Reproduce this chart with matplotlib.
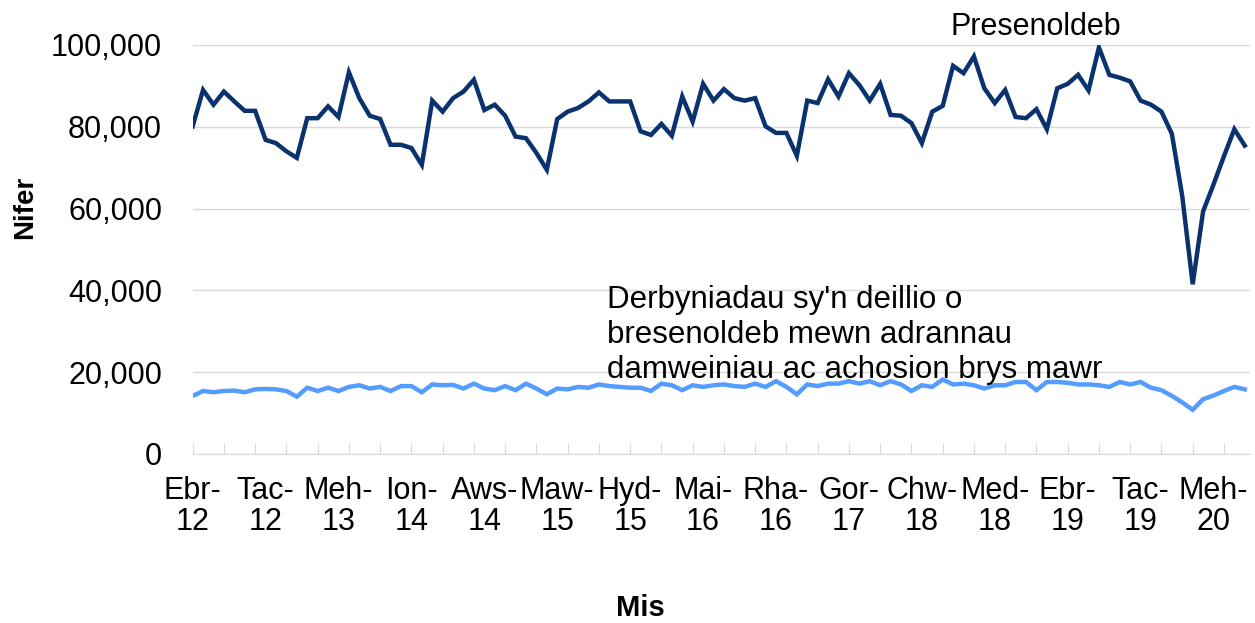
import matplotlib.pyplot as plt
import numpy as np
from matplotlib.ticker import FuncFormatter, FixedLocator

plt.rcParams["font.family"] = ["Liberation Sans", "DejaVu Sans"]

# monthly values, Apr 2012 .. Sep 2020
attendances = [
    80.1, 89.0, 85.4, 88.6, 86.2, 83.9, 83.9, 76.8, 76.0, 74.0, 72.4, 82.1,
    82.1, 85.0, 82.4, 93.3, 87.0, 82.7, 81.9, 75.6, 75.6, 74.8, 70.7, 86.4,
    83.7, 87.0, 88.6, 91.5, 84.1, 85.4, 82.7, 77.6, 77.2, 73.6, 69.5, 81.9,
    83.7, 84.6, 86.2, 88.4, 86.2, 86.2, 86.2, 78.9, 78.0, 80.7, 77.8, 87.4,
    81.3, 90.5, 86.4, 89.2, 87.0, 86.4, 87.0, 80.1, 78.5, 78.5, 72.9, 86.4,
    85.8, 91.6, 87.4, 93.1, 90.2, 86.4, 90.5, 82.9, 82.7, 80.9, 76.0, 83.7,
    85.1, 94.9, 93.1, 97.2, 89.4, 85.8, 89.0, 82.4, 82.1, 84.3, 79.4, 89.4,
    90.5, 92.7, 88.9, 99.4, 92.7, 92.0, 91.1, 86.4, 85.4, 83.7, 78.3, 63.0,
    41.5, 59.3, 65.9, 72.8, 79.4, 75.4,
]
admissions = [
    14.2, 15.4, 15.1, 15.4, 15.5, 15.1, 15.8, 15.9, 15.8, 15.4, 14.0, 16.2,
    15.4, 16.2, 15.4, 16.4, 16.8, 16.0, 16.4, 15.4, 16.6, 16.6, 15.1, 17.0,
    16.8, 16.9, 16.0, 17.2, 16.0, 15.6, 16.6, 15.6, 17.2, 16.0, 14.6, 16.0,
    15.8, 16.4, 16.2, 17.0, 16.6, 16.4, 16.2, 16.2, 15.4, 17.2, 16.8, 15.6,
    16.8, 16.4, 16.8, 17.0, 16.6, 16.4, 17.2, 16.4, 17.8, 16.4, 14.6, 17.0,
    16.6, 17.2, 17.2, 17.8, 17.2, 17.8, 16.8, 17.8, 17.0, 15.4, 16.8, 16.4,
    18.2, 17.0, 17.2, 16.8, 16.0, 16.8, 16.8, 17.6, 17.6, 15.6, 17.6, 17.6,
    17.4, 17.0, 17.0, 16.8, 16.4, 17.6, 17.0, 17.6, 16.2, 15.6, 14.2, 12.6,
    10.8, 13.4, 14.3, 15.4, 16.4, 15.8,
]
tick_labels = ["Ebr-\n12", "Tac-\n12", "Meh-\n13", "Ion-\n14", "Aws-\n14",
               "Maw-\n15", "Hyd-\n15", "Mai-\n16", "Rha-\n16", "Gor-\n17",
               "Chw-\n18", "Med-\n18", "Ebr-\n19", "Tac-\n19", "Meh-\n20"]

x = np.arange(len(attendances))
dark = "#0a326e"
light = "#559cff"

fig = plt.figure(figsize=(12.55, 6.23), dpi=100)
ax = fig.add_axes([0.1535, 0.2713, 0.8425, 0.6565])

ax.plot(x, np.array(attendances) * 1000, color=dark, lw=3.2, solid_joinstyle="miter")
ax.plot(x, np.array(admissions) * 1000, color=light, lw=3.2, solid_joinstyle="miter")

ax.set_xlim(0, 101.5)
ax.set_ylim(0, 100000)
ax.set_yticks(np.arange(0, 100001, 20000))
ax.yaxis.set_major_formatter(FuncFormatter(lambda v, p: f"{int(v):,}"))
ax.grid(axis="y", color="#d9d9d9", lw=1)
ax.set_axisbelow(True)

# tick marks every 3 months, labels every 7 months
ax.xaxis.remove_overlapping_locs = False
ax.xaxis.set_major_locator(FixedLocator(np.arange(0, 102, 3)))
ax.xaxis.set_major_formatter(FuncFormatter(lambda v, p: ""))
ax.xaxis.set_minor_locator(FixedLocator(np.arange(0, 7 * len(tick_labels), 7)))
ax.set_xticklabels(tick_labels, minor=True)
ax.tick_params(axis="x", which="major", direction="in", length=8, color="#d9d9d9")
ax.tick_params(axis="x", which="minor", length=0, pad=16, labelsize=22)
ax.tick_params(axis="y", length=0, pad=22, labelsize=22)
for lbl in ax.get_xticklabels(minor=True):
    lbl.set_linespacing(1.05)

for s in ["top", "right", "left"]:
    ax.spines[s].set_visible(False)
ax.spines["bottom"].set_color("#d9d9d9")

fig.text(25 / 1255, 1 - 207 / 623, "Nifer", fontsize=20, fontweight="bold",
         rotation=90, ha="center", va="center")
fig.text(640 / 1255, 1 - 608 / 623, "Mis", fontsize=21, fontweight="bold",
         ha="center", va="center")

ax.text(80.9, 104400, "Presenoldeb", fontsize=22, ha="center", va="center", clip_on=False)
ax.text(39.8, 29000,
        "Derbyniadau sy'n deillio o\nbresenoldeb mewn adrannau\ndamweiniau ac achosion brys mawr",
        fontsize=22.5, ha="left", va="center", linespacing=1.22)

fig.savefig("out.png", dpi=100)
